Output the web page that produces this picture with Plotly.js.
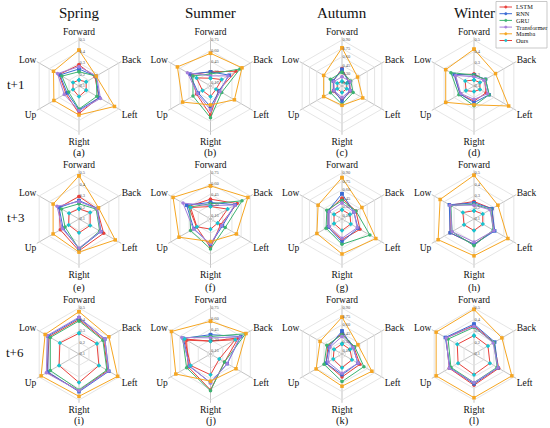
<!DOCTYPE html>
<html><head><meta charset="utf-8">
<script src="https://cdn.plot.ly/plotly-3.0.1.min.js"></script>
<style>html,body{margin:0;padding:0;background:#fff}#chart{width:550px;height:428px}</style>
</head><body><div id="chart"></div>
<script>
const categories = ['Forward','Back','Left','Right','Up','Low'];
const models = ['LSTM','RNN','GRU','Transformer','Mamba','Ours'];
const seasons = ['Spring','Summer','Autumn','Winter'];
const horizons = ['t+1','t+3','t+6'];
const panelLetters = ['(a)','(b)','(c)','(d)','(e)','(f)','(g)','(h)','(i)','(j)','(k)','(l)'];

const springTicks = [0.1,0.2,0.3,0.4,0.5];
const summerTicks = [0.15,0.30,0.45,0.60,0.75];
const autumnTicks = [0.15,0.30,0.45,0.60,0.75,0.90];
const winterTicks = [0.1,0.2,0.3,0.4,0.5];
const springTickText = ['0.1','0.2','0.3','0.4','0.5'];
const summerTickText = ['0.15','0.30','0.45','0.60','0.75'];
const autumnTickText = ['0.15','0.30','0.45','0.60','0.75','0.90'];
const winterTickText = ['0.1','0.2','0.3','0.4','0.5'];
const radialStart = [0.1, 0.1, 0.08, 0.1];

// rows: LSTM, RNN, GRU, Transformer, Mamba, Ours ; columns follow categories
const springT1 = [
  [0.284,0.26,0.30,0.34,0.232,0.30],
  [0.248,0.268,0.304,0.308,0.22,0.292],
  [0.224,0.272,0.28,0.30,0.204,0.272],
  [0.268,0.276,0.316,0.316,0.248,0.316],
  [0.412,0.272,0.456,0.352,0.352,0.356],
  [0.152,0.172,0.172,0.192,0.16,0.16]];
const summerT1 = [
  [0.30,0.516,0.23,0.51,0.328,0.425],
  [0.30,0.406,0.243,0.393,0.30,0.438],
  [0.269,0.581,0.282,0.549,0.386,0.386],
  [0.243,0.386,0.256,0.438,0.315,0.477],
  [0.562,0.614,0.49,0.367,0.555,0.64],
  [0.21,0.282,0.191,0.25,0.23,0.328]];
const autumnT1 = [
  [0.392,0.228,0.26,0.326,0.26,0.26],
  [0.375,0.219,0.244,0.351,0.244,0.26],
  [0.326,0.26,0.31,0.408,0.318,0.318],
  [0.244,0.244,0.244,0.285,0.244,0.244],
  [0.761,0.40,0.506,0.424,0.457,0.457],
  [0.162,0.178,0.178,0.195,0.178,0.178]];
const winterT1 = [
  [0.204,0.208,0.22,0.232,0.24,0.292],
  [0.196,0.216,0.252,0.244,0.24,0.30],
  [0.196,0.216,0.252,0.272,0.252,0.332],
  [0.18,0.20,0.236,0.216,0.232,0.284],
  [0.42,0.316,0.448,0.264,0.384,0.384],
  [0.152,0.16,0.16,0.148,0.18,0.188]];
const springT3 = [
  [0.296,0.28,0.348,0.376,0.288,0.30],
  [0.26,0.284,0.32,0.36,0.26,0.30],
  [0.232,0.272,0.308,0.36,0.24,0.276],
  [0.252,0.28,0.316,0.352,0.268,0.32],
  [0.476,0.296,0.464,0.388,0.36,0.36],
  [0.188,0.212,0.212,0.22,0.204,0.20]];
const summerT3 = [
  [0.38,0.536,0.263,0.503,0.328,0.458],
  [0.334,0.503,0.295,0.458,0.373,0.49],
  [0.315,0.614,0.34,0.523,0.425,0.438],
  [0.289,0.497,0.282,0.451,0.38,0.549],
  [0.568,0.711,0.523,0.419,0.614,0.711],
  [0.276,0.38,0.217,0.243,0.321,0.425]];
const autumnT3 = [
  [0.449,0.367,0.449,0.449,0.367,0.367],
  [0.531,0.326,0.408,0.49,0.367,0.367],
  [0.408,0.367,0.654,0.531,0.408,0.392],
  [0.367,0.326,0.392,0.424,0.342,0.342],
  [0.818,0.49,0.777,0.703,0.597,0.572],
  [0.244,0.244,0.26,0.285,0.244,0.244]];
const winterT3 = [
  [0.252,0.28,0.30,0.32,0.34,0.34],
  [0.24,0.28,0.308,0.32,0.34,0.348],
  [0.228,0.268,0.292,0.332,0.32,0.332],
  [0.22,0.26,0.30,0.30,0.32,0.34],
  [0.48,0.34,0.44,0.42,0.46,0.44],
  [0.172,0.188,0.188,0.20,0.20,0.212]];
const springT6 = [
  [0.40,0.348,0.388,0.42,0.42,0.40],
  [0.412,0.36,0.40,0.428,0.412,0.412],
  [0.388,0.34,0.38,0.412,0.388,0.388],
  [0.42,0.36,0.396,0.42,0.428,0.42],
  [0.468,0.40,0.488,0.468,0.48,0.44],
  [0.28,0.28,0.30,0.348,0.30,0.292]];
const summerT6 = [
  [0.282,0.555,0.328,0.607,0.464,0.49],
  [0.373,0.594,0.373,0.503,0.445,0.542],
  [0.347,0.672,0.328,0.62,0.49,0.555],
  [0.328,0.581,0.373,0.51,0.438,0.568],
  [0.562,0.679,0.516,0.484,0.666,0.737],
  [0.282,0.503,0.243,0.393,0.425,0.523]];
const autumnT6 = [
  [0.449,0.326,0.449,0.49,0.408,0.367],
  [0.49,0.31,0.408,0.449,0.408,0.342],
  [0.424,0.342,0.531,0.572,0.449,0.392],
  [0.392,0.31,0.408,0.424,0.367,0.326],
  [0.736,0.408,0.695,0.654,0.613,0.531],
  [0.26,0.244,0.285,0.326,0.26,0.244]];
const winterT6 = [
  [0.348,0.30,0.348,0.372,0.348,0.38],
  [0.36,0.308,0.34,0.36,0.34,0.388],
  [0.332,0.30,0.332,0.348,0.332,0.36],
  [0.34,0.292,0.34,0.348,0.348,0.38],
  [0.488,0.38,0.48,0.48,0.48,0.48],
  [0.26,0.24,0.26,0.28,0.26,0.268]];

const panels = [springT1, summerT1, autumnT1, winterT1,
                springT3, summerT3, autumnT3, winterT3,
                springT6, summerT6, autumnT6, winterT6];
const ticksBySeason = [springTicks, summerTicks, autumnTicks, winterTicks];
const tickTextBySeason = [springTickText, summerTickText, autumnTickText, winterTickText];

const lineColors = ['#e8413c','#3a6ad4','#3cb371','#a57fdb','#f5a623','#e8413c'];
const markerColors = ['#e8413c','#3a6ad4','#3cb371','#a57fdb','#f5a623','#19c3cf'];
const markerSymbols = ['circle','square','circle','circle','square','diamond'];

const W = 550, H = 428;
const colX = [79, 210.5, 342, 474];
const rowY = [86, 219, 354];
const ringR = 46;
const ext = 0.06;
const Rd = ringR * (1 + ext);
const captionY = [153, 288, 421];
const serif = 'Liberation Serif, Times New Roman, serif';
const px = x => x / W;
const py = y => 1 - y / H;

const data = [];
const layout = {
  width: W, height: H,
  margin: {l:0, r:0, t:0, b:0},
  paper_bgcolor: '#fff',
  showlegend: false,
  font: {family: serif, color: '#111'},
  annotations: [], shapes: []
};

panels.forEach((panel, p) => {
  const row = Math.floor(p / 4), col = p % 4;
  const id = p === 0 ? 'polar' : 'polar' + (p + 1);
  const cx = colX[col], cy = rowY[row];
  const ticks = ticksBySeason[col];
  const v0 = radialStart[col];
  const vt = ticks[ticks.length - 1];
  const vmax = vt + ext * (vt - v0);
  layout[id] = {
    domain: {x: [px(cx - Rd), px(cx + Rd)], y: [py(cy + Rd), py(cy - Rd)]},
    bgcolor: '#fff',
    gridshape: 'linear',
    angularaxis: {
      rotation: 90, direction: 'clockwise', type: 'category',
      categoryorder: 'array', categoryarray: categories,
      showline: false, ticks: '', gridcolor: '#b4b4b4', gridwidth: 0.8,
      tickfont: {family: serif, size: 9.5, color: '#111'}
    },
    radialaxis: {
      range: [v0, vmax], tickvals: ticks, ticktext: tickTextBySeason[col],
      angle: 90, tickangle: 90, showline: false, ticks: '',
      gridcolor: '#dedede', gridwidth: 0.8,
      tickfont: {family: serif, size: 4.5, color: '#555'}
    }
  };
  panel.forEach((vals, m) => {
    data.push({
      type: 'scatterpolar', subplot: id, name: models[m],
      r: vals.concat([vals[0]]), theta: categories.concat([categories[0]]),
      mode: 'lines+markers',
      line: {color: lineColors[m], width: 1},
      marker: {color: markerColors[m], size: 3.5, symbol: markerSymbols[m]},
      showlegend: false, hoverinfo: 'skip'
    });
  });
  layout.annotations.push({
    xref: 'paper', yref: 'paper', x: px(cx), y: py(captionY[row]),
    text: panelLetters[p], showarrow: false, xanchor: 'center', yanchor: 'middle',
    font: {family: serif, size: 10.5, color: '#111'}
  });
});

seasons.forEach((s, i) => {
  layout.annotations.push({
    xref: 'paper', yref: 'paper', x: px(colX[i]), y: py(13),
    text: s, showarrow: false, xanchor: 'center', yanchor: 'middle',
    font: {family: serif, size: 15, color: '#111'}
  });
});
horizons.forEach((h, i) => {
  layout.annotations.push({
    xref: 'paper', yref: 'paper', x: px(15), y: py(rowY[i] - 2),
    text: h, showarrow: false, xanchor: 'center', yanchor: 'middle',
    font: {family: serif, size: 13, color: '#111'}
  });
});

// legend box drawn manually
layout.shapes.push({type:'rect', xref:'paper', yref:'paper',
  x0: px(496), x1: px(547), y0: py(48), y1: py(1.5),
  line: {color:'#bbbbbb', width: 0.8}, fillcolor: 'rgba(255,255,255,0.9)'});
models.forEach((m, i) => {
  const y = 7 + i * 6.7;
  layout.shapes.push({type:'line', xref:'paper', yref:'paper',
    x0: px(499.5), x1: px(512), y0: py(y), y1: py(y),
    line: {color: lineColors[i], width: 1}});
  layout.shapes.push({type:'circle', xref:'paper', yref:'paper',
    x0: px(504.6), x1: px(507), y0: py(y + 1.2), y1: py(y - 1.2),
    line: {color: markerColors[i], width: 0.5}, fillcolor: markerColors[i]});
  layout.annotations.push({
    xref: 'paper', yref: 'paper', x: px(514), y: py(y),
    text: m, showarrow: false, xanchor: 'left', yanchor: 'middle',
    font: {family: serif, size: 6.3, color: '#111'}
  });
});

Plotly.newPlot('chart', data, layout, {staticPlot: true, displayModeBar: false});
</script>
</body></html>
